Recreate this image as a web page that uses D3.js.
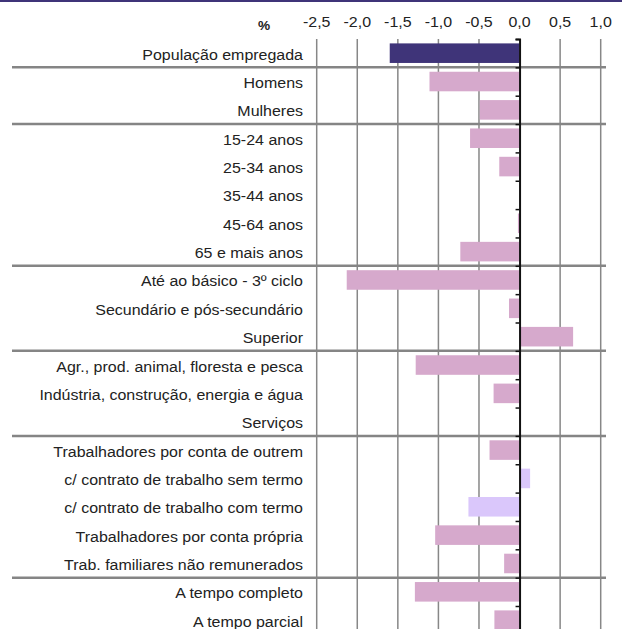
<!DOCTYPE html>
<html>
<head>
<meta charset="utf-8">
<script src="https://cdn.jsdelivr.net/npm/d3@7"></script>
<style>
  html, body { margin: 0; padding: 0; background: #fff; }
  svg { display: block; font-family: "Liberation Sans", Arial, Helvetica, sans-serif; }
</style>
</head>
<body>
<div id="chart"></div>
<script>
// Categories, top to bottom
const categories = [
  "População empregada",
  "Homens",
  "Mulheres",
  "15-24 anos",
  "25-34 anos",
  "35-44 anos",
  "45-64 anos",
  "65 e mais anos",
  "Até ao básico - 3º ciclo",
  "Secundário e pós-secundário",
  "Superior",
  "Agr., prod. animal, floresta e pesca",
  "Indústria, construção, energia e água",
  "Serviços",
  "Trabalhadores por conta de outrem",
  "c/ contrato de trabalho sem termo",
  "c/ contrato de trabalho com termo",
  "Trabalhadores por conta própria",
  "Trab. familiares não remunerados",
  "A tempo completo",
  "A tempo parcial"
];

// Variation (%)
const values = [
  -1.6,
  -1.11, -0.49,
  -0.61, -0.25, 0.0, -0.02, -0.73,
  -2.13, -0.13, 0.66,
  -1.28, -0.32, 0.0,
  -0.37, 0.13, -0.63, -1.04, -0.19,
  -1.29, -0.31
];

// Number of categories in each block (blocks separated by horizontal rules)
const groupSizes = [1, 2, 5, 3, 3, 5, 2];

// Contract-type breakdown of employees
const subCategories = ["c/ contrato de trabalho sem termo", "c/ contrato de trabalho com termo"];

const tickValues = [-2.5, -2.0, -1.5, -1.0, -0.5, 0.0, 0.5, 1.0];
const unitLabel = "%";

const W = 622, H = 629;
const plotTop = 39, rowH = 28.35;
const plotBottom = plotTop + rowH * categories.length;

const svg = d3.select("#chart").append("svg")
  .attr("width", W).attr("height", H);

svg.append("rect").attr("width", W).attr("height", H).attr("fill", "#fff");
svg.append("rect").attr("x", 0).attr("y", 0).attr("width", W).attr("height", 2).attr("fill", "#3f3479");

const x = d3.scaleLinear().domain([-2.5, 1.0]).range([316.7, 600.7]);
const y = d3.scaleBand().domain(categories).range([plotTop, plotBottom])
  .paddingInner(0.31).paddingOuter(0.155);
const rowScale = d3.scaleLinear().domain([0, categories.length]).range([plotTop, plotBottom]);

// vertical grid
svg.append("g").selectAll("line")
  .data(tickValues.filter(v => v !== 0))
  .join("line")
  .attr("x1", d => x(d)).attr("x2", d => x(d))
  .attr("y1", plotTop).attr("y2", plotBottom)
  .attr("stroke", "#878787").attr("stroke-width", 1.5);

// block separators
const sepIdx = d3.cumsum(groupSizes).slice(0, -1);
svg.append("g").selectAll("line")
  .data(Array.from(sepIdx))
  .join("line")
  .attr("x1", 12).attr("x2", 606)
  .attr("y1", d => rowScale(d)).attr("y2", d => rowScale(d))
  .attr("stroke", "#858585").attr("stroke-width", 2.5);

// bars
const fillFor = (c, i) => i === 0 ? "#3f3479" : (subCategories.includes(c) ? "#dac7fb" : "#d6a9cc");
svg.append("g").selectAll("rect")
  .data(categories.map((c, i) => ({ c, i, v: values[i] })))
  .join("rect")
  .attr("x", d => x(Math.min(0, d.v)))
  .attr("width", d => Math.abs(x(d.v) - x(0)))
  .attr("y", d => y(d.c))
  .attr("height", y.bandwidth())
  .attr("fill", d => fillFor(d.c, d.i));

// zero axis with ticks at row boundaries
const axis = d3.axisLeft(rowScale)
  .tickValues(d3.range(categories.length + 1))
  .tickFormat("")
  .tickSize(4);
const ax = svg.append("g").attr("transform", `translate(${x(0)},0)`).call(axis);
ax.select(".domain").attr("stroke", "#111").attr("stroke-width", 2);
ax.selectAll(".tick line").attr("stroke", "#111").attr("stroke-width", 1.5);

// category labels
svg.append("g").selectAll("text")
  .data(categories)
  .join("text")
  .attr("transform", d => `translate(303,${y(d) + y.bandwidth() / 2 + 6.5}) scale(1.065,1)`)
  .attr("text-anchor", "end")
  .attr("font-size", 15)
  .attr("fill", "#222")
  .text(d => d);

// value tick labels along the top
const fmt = v => d3.format(".1f")(v).replace(".", ",").replace("−", "-");
svg.append("g").selectAll("text")
  .data(tickValues)
  .join("text")
  .attr("transform", d => `translate(${x(d)},26.7) scale(1.14,1)`)
  .attr("text-anchor", "middle")
  .attr("font-size", 14)
  .attr("fill", "#222")
  .text(d => fmt(d));

svg.append("text")
  .attr("transform", "translate(264,29.5) scale(1.05,1)")
  .attr("text-anchor", "middle")
  .attr("font-size", 13)
  .attr("font-weight", "bold")
  .attr("fill", "#222")
  .text(unitLabel);
</script>
</body>
</html>
